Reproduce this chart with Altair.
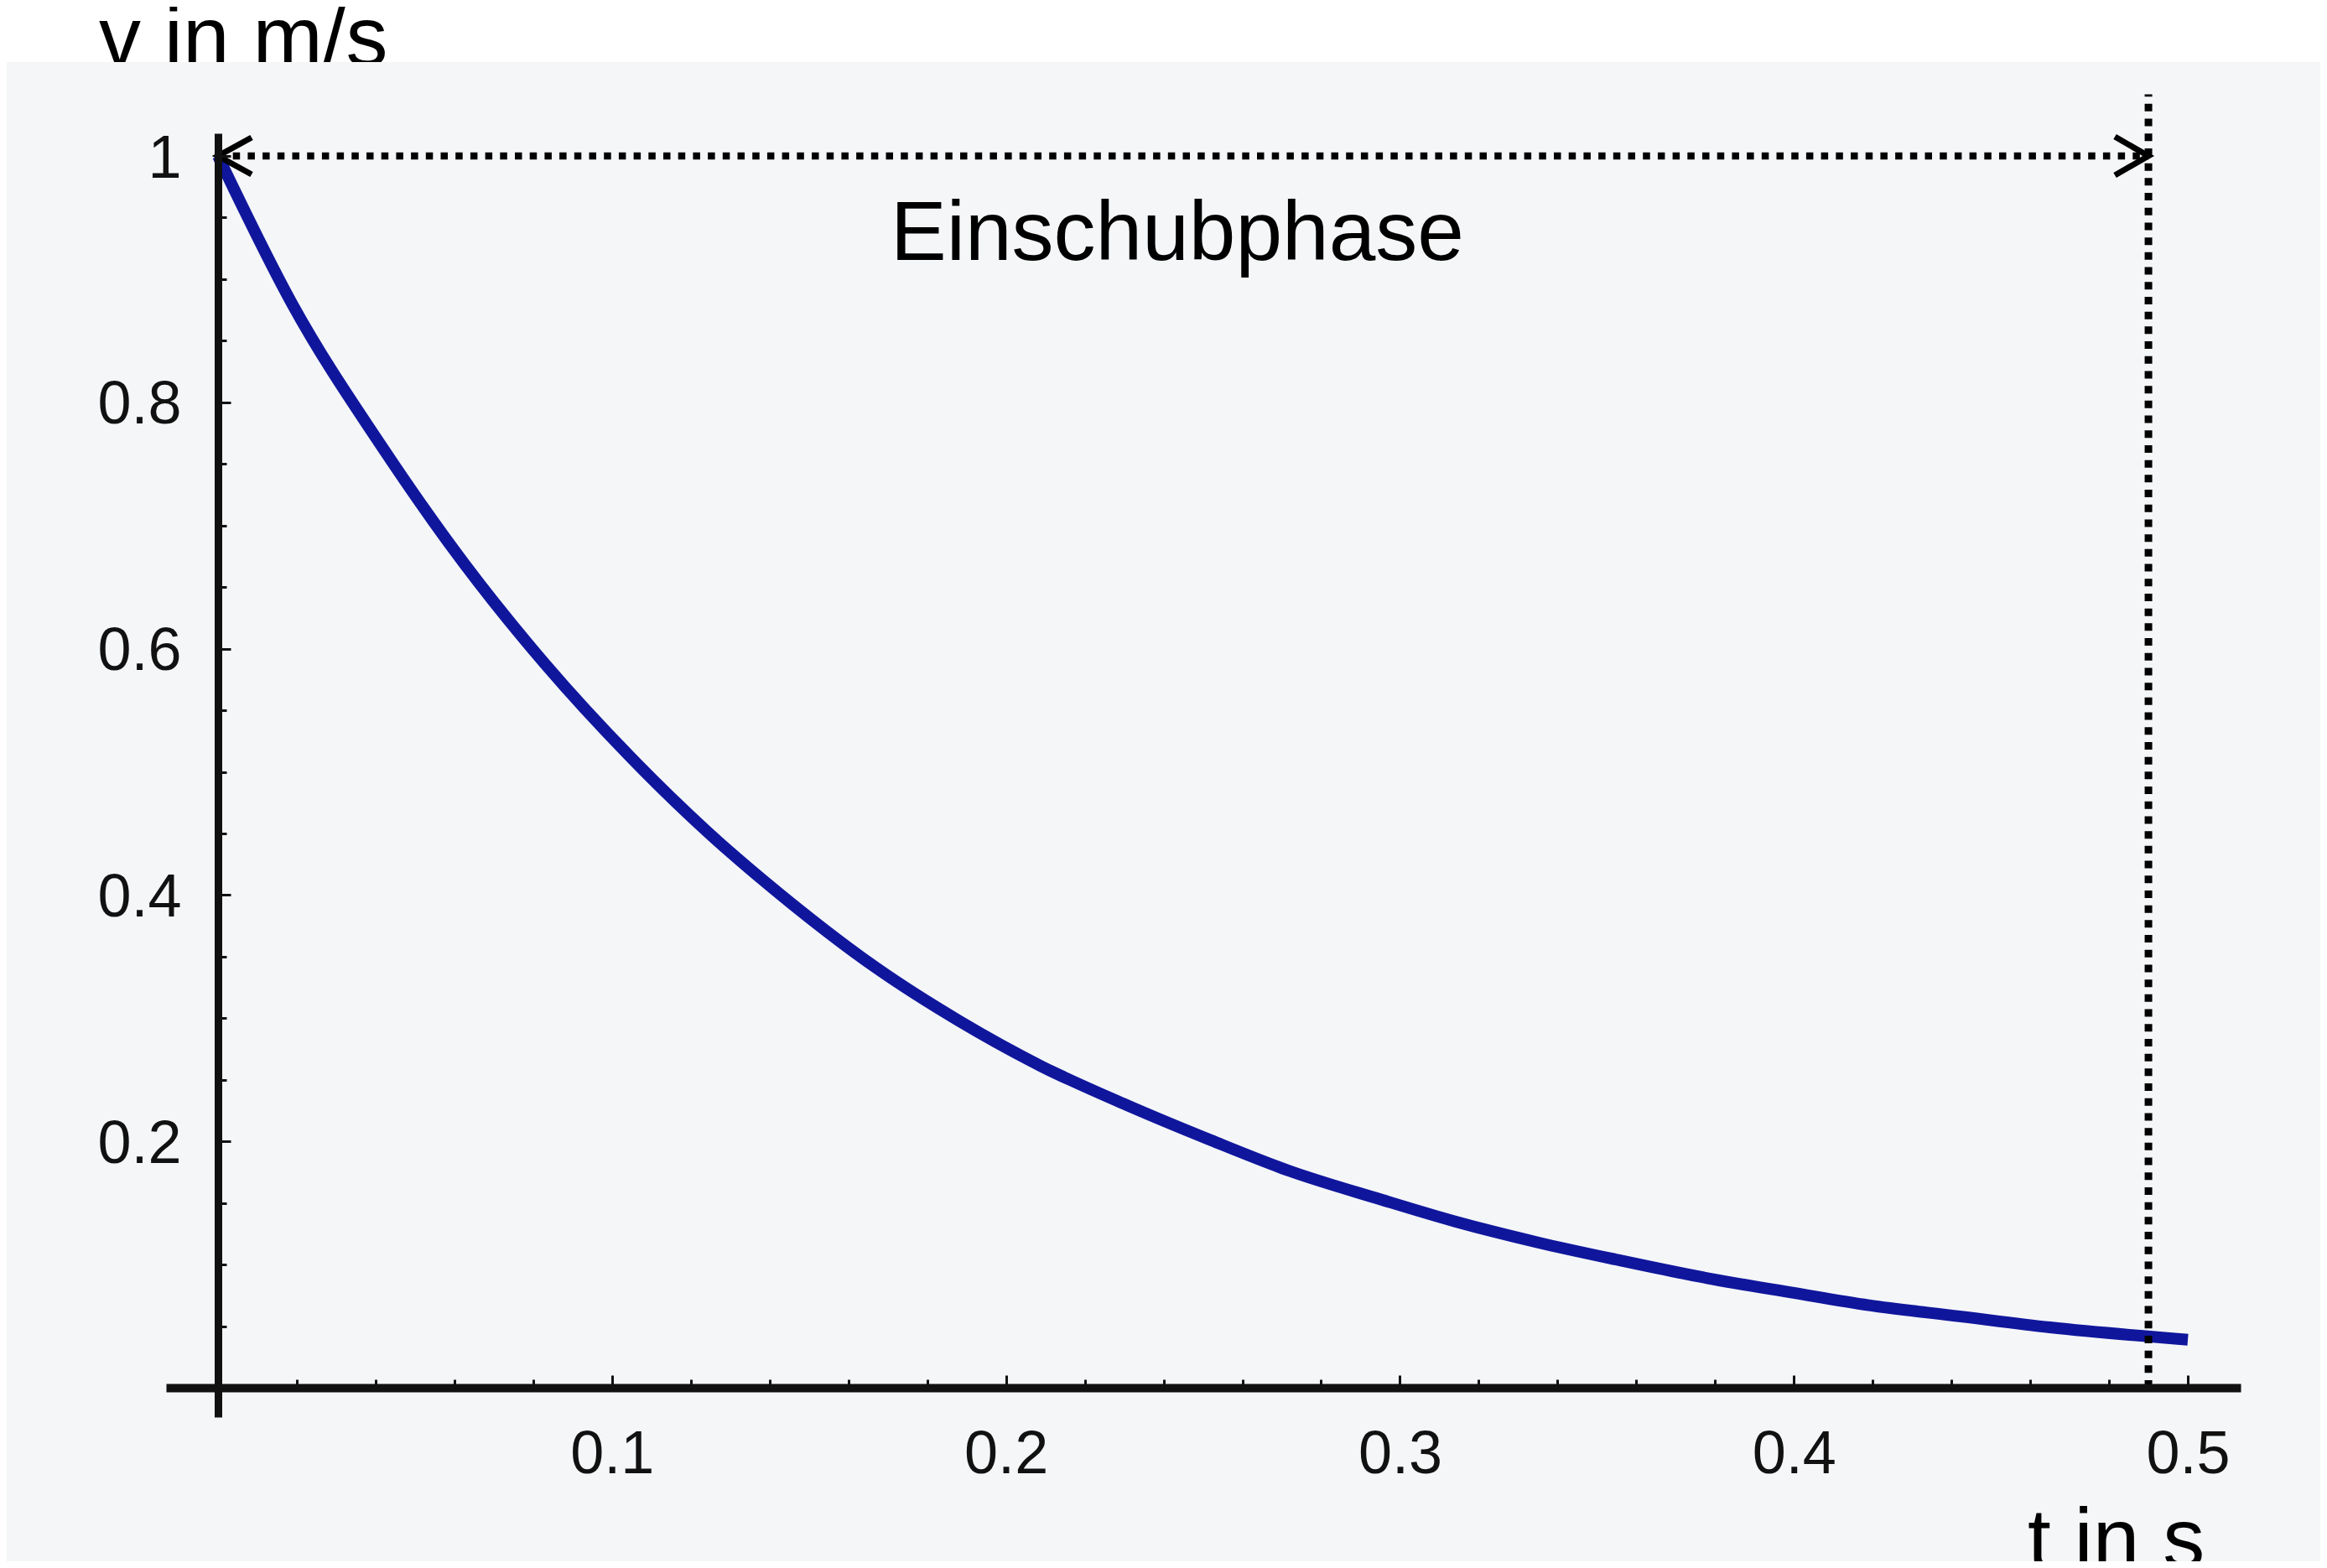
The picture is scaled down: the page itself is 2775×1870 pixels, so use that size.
import altair as alt
import pandas as pd

# ---- data ----
t_vals = [0.0, 0.0188, 0.0418, 0.0625, 0.0829, 0.1047, 0.124, 0.146, 0.167, 0.188,
          0.209, 0.231, 0.252, 0.272, 0.295, 0.314, 0.335, 0.355, 0.378, 0.400,
          0.419, 0.442, 0.465, 0.500]
v_vals = [1.0, 0.880, 0.763, 0.669, 0.588, 0.512, 0.452, 0.392, 0.341, 0.298,
          0.261, 0.229, 0.201, 0.176, 0.153, 0.135, 0.118, 0.104, 0.089, 0.077,
          0.067, 0.058, 0.049, 0.039]

x_major = [0.1, 0.2, 0.3, 0.4, 0.5]
x_minor = [0.02, 0.04, 0.06, 0.08, 0.12, 0.14, 0.16, 0.18, 0.22, 0.24, 0.26, 0.28,
           0.32, 0.34, 0.36, 0.38, 0.42, 0.44, 0.46, 0.48]
y_major = [0.2, 0.4, 0.6, 0.8, 1.0]
y_minor = [0.05, 0.1, 0.15, 0.25, 0.3, 0.35, 0.45, 0.5, 0.55, 0.65, 0.7, 0.75,
           0.85, 0.9, 0.95]

phase_start = [0.0]
phase_end = [0.49]
phase_level = [1.0]
phase_label = "Einschubphase"
x_title = "t in s"
y_title = "v in m/s"

# ---- styling ----
F = "Liberation Sans"
INK = "#111111"
BG = "#f4f6f8"
W, H = 2474, 1531

xs = alt.Scale(domain=[-0.0132, 0.5134], nice=False, zero=False)
ys = alt.Scale(domain=[-0.0238, 1.0184], nice=False, zero=False)

curve_df = pd.DataFrame({"t": t_vals, "v": v_vals})
phase_df = pd.DataFrame({"t0": phase_start, "t1": phase_end, "v": phase_level,
                         "v0": [0.0], "vtop": [1.05]})
one = pd.DataFrame({"a": [0]})

ax_x_major = alt.Axis(orient="top", offset=-1496, values=x_major, labels=False,
                      tickSize=15, tickWidth=3, tickColor=INK, domainWidth=10,
                      domainColor=INK, grid=False, title=None, zindex=1)
ax_y_major = alt.Axis(orient="right", offset=-2412, values=y_major, labels=False,
                      tickSize=15, tickWidth=3, tickColor=INK, domainWidth=9,
                      domainColor=INK, grid=False, title=None, zindex=1)
ax_x_minor = alt.Axis(orient="top", offset=-1496, values=x_minor, labels=False,
                      domain=False, tickSize=10, tickWidth=3, tickColor=INK,
                      grid=False, title=None, zindex=1)
ax_y_minor = alt.Axis(orient="right", offset=-2412, values=y_minor, labels=False,
                      domain=False, tickSize=10, tickWidth=3, tickColor=INK,
                      grid=False, title=None, zindex=1)
ax_x_lab = alt.Axis(orient="bottom", offset=-35, values=x_major, format="~g",
                    ticks=False, tickSize=0, domain=False, labelPadding=44,
                    labelFont=F, labelFontSize=72, labelColor=INK, labelFlush=False,
                    grid=False, title=None, zindex=1)
ax_y_lab = alt.Axis(orient="left", offset=-62, values=y_major, format="~g",
                    ticks=False, tickSize=0, domain=False, labelPadding=44,
                    labelFont=F, labelFontSize=72, labelColor=INK, labelFlush=False,
                    labelBaseline="middle", labelOffset=3,
                    grid=False, title=None, zindex=1)

ytitle = alt.Chart(one).mark_text(
    text=y_title, font=F, fontSize=100, align="left", baseline="alphabetic", color="#000"
).encode(x=alt.value(-80), y=alt.value(-81))

bg = alt.Chart(one).mark_rect(color=BG).encode(
    x=alt.value(-190), x2=alt.value(2569), y=alt.value(-85), y2=alt.value(1703)
)

curve = alt.Chart(curve_df).mark_line(color="#10169c", strokeWidth=14,
                                      interpolate="monotone").encode(
    x=alt.X("t:Q", scale=xs, axis=ax_x_major),
    y=alt.Y("v:Q", scale=ys, axis=ax_y_major),
)

hdots = alt.Chart(phase_df).mark_rule(color="#000", strokeWidth=8.5,
                                      strokeDash=[8.5, 9.2]).encode(
    x=alt.X("t0:Q", scale=xs, axis=ax_x_minor),
    x2="t1:Q",
    y=alt.Y("v:Q", scale=ys, axis=ax_y_minor),
)

vdots = alt.Chart(phase_df).mark_rule(color="#000", strokeWidth=9,
                                      strokeDash=[9, 8.7]).encode(
    x=alt.X("t1:Q", scale=xs, axis=None),
    y=alt.Y("v0:Q", scale=ys, axis=None),
    y2="vtop:Q",
)

left_arrow = alt.Chart(phase_df).mark_point(
    shape="M1,-0.55L0,0L1,0.55", size=6400, strokeWidth=7, color="#000",
    filled=False, opacity=1
).encode(
    x=alt.X("t0:Q", scale=xs, axis=ax_x_lab),
    y=alt.Y("v:Q", scale=ys, axis=ax_y_lab),
)

right_arrow = alt.Chart(phase_df).mark_point(
    shape="M-1,-0.575L0,0L-1,0.575", size=6400, strokeWidth=7, color="#000",
    filled=False, opacity=1
).encode(
    x=alt.X("t1:Q", scale=xs, axis=None),
    y=alt.Y("v:Q", scale=ys, axis=None),
)

phase_text = alt.Chart(one).mark_text(
    text=phase_label, font=F, fontSize=100, align="center", baseline="alphabetic",
    color="#000"
).encode(
    x=alt.XDatum(0.2435, scale=xs, axis=None),
    y=alt.YDatum(0.9156, scale=ys, axis=None),
)

xtitle = alt.Chart(one).mark_text(
    text=x_title, font=F, fontSize=100, align="left", baseline="alphabetic", color="#000"
).encode(x=alt.value(2220), y=alt.value(1710))

chart = alt.layer(
    ytitle, bg, curve, hdots, vdots, left_arrow, right_arrow, phase_text, xtitle
).resolve_axis(
    x="independent", y="independent"
).properties(
    width=W, height=H,
    padding={"left": 190, "top": 151, "right": 95, "bottom": 172},
    autosize=alt.AutoSizeParams(type="none"),
    background="#ffffff",
).configure_view(strokeWidth=0)

chart.save("out.html", embed_options={"renderer": "svg", "actions": False})
